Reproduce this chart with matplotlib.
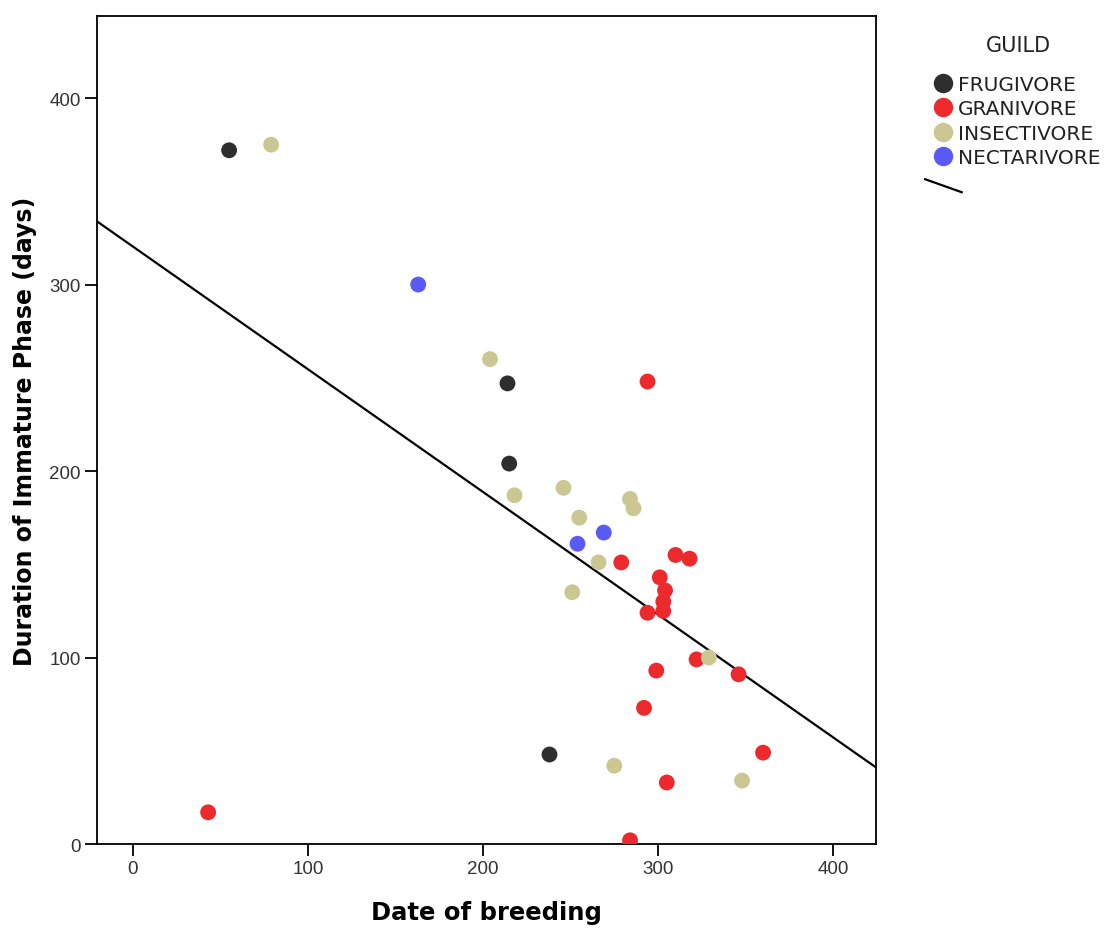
import matplotlib
matplotlib.use("Agg")
import matplotlib.pyplot as plt
from matplotlib.lines import Line2D

plt.rcParams['font.family'] = ['DejaVu Sans']
TICKFONT = ['Liberation Sans', 'DejaVu Sans']

# ---------------------------------- data ----------------------------------- #
guilds = ['FRUGIVORE', 'GRANIVORE', 'INSECTIVORE', 'NECTARIVORE']
colors = ['#2e2e2e', '#ec2a2e', '#cbc793', '#5a5af5']

frug_x = [55, 214, 215, 238]
frug_y = [372, 247, 204, 48]

gran_x = [43, 294, 279, 310, 318, 301, 304, 303, 303, 294,
          322, 299, 346, 292, 360, 305, 284]
gran_y = [17, 248, 151, 155, 153, 143, 136, 130, 125, 124,
          99, 93, 91, 73, 49, 33, 2]

insect_x = [79, 204, 218, 246, 255, 284, 286, 266, 251, 329, 275, 348]
insect_y = [375, 260, 187, 191, 175, 185, 180, 151, 135, 100, 42, 34]

nect_x = [163, 254, 269]
nect_y = [300, 161, 167]

groups_x = [frug_x, gran_x, insect_x, nect_x]
groups_y = [frug_y, gran_y, insect_y, nect_y]

# fit line: y = intercept + slope * x
fit_intercept = 320.4
fit_slope = -0.658

# --------------------------------- figure ---------------------------------- #
fig = plt.figure(figsize=(11.08, 9.29), dpi=100)
ax = fig.add_axes([0.0875, 0.0904, 0.7031, 0.8913])

xlim = (-20.5, 424.5)
ylim = (0, 444)

for gx, gy, col in zip(groups_x, groups_y, colors):
    ax.scatter(gx, gy, s=130, color=col, edgecolors='none', zorder=3)

ax.plot(xlim, [fit_intercept + fit_slope * x for x in xlim],
        color='black', lw=1.6, zorder=2)

ax.set_xlim(*xlim)
ax.set_ylim(*ylim)
ax.set_xticks([0, 100, 200, 300, 400])
ax.set_yticks([0, 100, 200, 300, 400])
ax.tick_params(direction='out', length=8.5, width=1.3, labelsize=13.5,
               labelcolor='#333333', pad=3)
for lbl in ax.get_xticklabels() + ax.get_yticklabels():
    lbl.set_fontfamily(TICKFONT)
for sp in ax.spines.values():
    sp.set_linewidth(1.3)

ax.set_xlabel("Date of breeding", fontsize=17.5, fontweight='bold', va='center')
ax.set_ylabel("Duration of Immature Phase (days)", fontsize=17,
              fontweight='bold', va='center')
ax.xaxis.set_label_coords(0.500, -0.0825)
ax.yaxis.set_label_coords(-0.0925, 0.500)

# legend
fig.text(0.919, 0.951, 'GUILD', fontsize=15, ha='center', va='center',
         color='#222222')
handles = [Line2D([], [], marker='o', ls='none', markersize=14,
                  markerfacecolor=c, markeredgecolor='none') for c in colors]
leg = fig.legend(handles, guilds, loc='upper left',
                 bbox_to_anchor=(0.833, 0.929), frameon=False,
                 fontsize=14.5, handletextpad=0.22, labelspacing=0.27,
                 handlelength=1.0, borderpad=0)
for t in leg.get_texts():
    t.set_color('#222222')

# regression line key
fig.add_artist(Line2D([0.835, 0.868], [0.806, 0.792], color='black', lw=1.6))

fig.savefig('out.png', dpi=100)
